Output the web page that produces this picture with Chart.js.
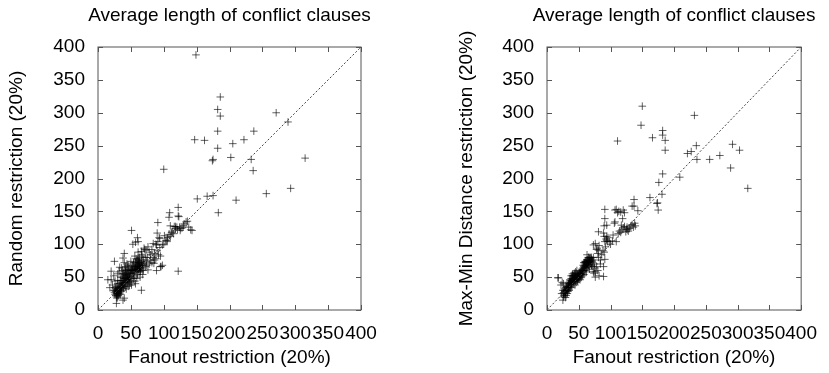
<!DOCTYPE html>
<html>
<head>
<meta charset="utf-8">
<script src="https://cdn.jsdelivr.net/npm/chart.js@4"></script>
<style>
  body { margin: 0; background: #fff; }
  .panel { position: absolute; top: 0; }
</style>
</head>
<body>
<div class="panel" style="left:0"><canvas id="leftChart" width="414" height="373"></canvas></div>
<div class="panel" style="left:414px"><canvas id="rightChart" width="415" height="373"></canvas></div>
<script>
const axisTicks = [0, 50, 100, 150, 200, 250, 300, 350, 400];
const diagonal = [0, 400];
const chartTitle = 'Average length of conflict clauses';
const xLabel = 'Fanout restriction (20%)';
const leftYLabel = 'Random restriction (20%)';
const rightYLabel = 'Max-Min Distance restriction (20%)';

// [fanout, random] pairs
const randomPoints = [
  [149,388],[186,324],[182,305],[186,295],[182,272],[147,259],[162,258],[182,246],[175,229],[174,227],
  [205,253],[222,259],[237,272],[202,232],[233,229],[236,212],[271,300],[289,286],[315,231],[100,214],
  [151,169],[166,173],[175,174],[183,148],[210,167],[256,177],[293,185],[122,59],
  [109,148],[108,141],[122,156],[122,143],[123,142],[91,133],[110,128],[116,127],[124,126],[131,131],
  [134,134],[136,135],[141,122],[143,121],[125,121],[128,125],[118,124],[120,126],[121,122],[126,124],
  [112,118],[113,120],[115,116],[108,115],[110,112],[105,104],[103,106],[101,113],[100,100],[106,110],
  [51,121],[60,110],[61,104],[53,100],[57,103],[70,94],[90,117],[94,109],[84,101],[89,99],[98,99],[105,106],
  [95,66],[98,68],[85,71],[66,89],[71,92],[73,91],[40,86],[38,79],[25,74],[20,59],[15,46],[18,34],
  [28,10],[28,20],[40,18],[38,15],[22,38],[24,52],[20,46],[30,55],[26,44],[66,30],[96,66],[89,60],[76,61],
  [26,24],[28,22],[30,25],[27,28],[29,30],[31,22],[33,26],[28,27],[30,20],[32,29],[34,24],[29,18],
  [31,33],[27,32],[33,31],[35,28],[25,27],[30,28],[32,24],[28,25],[26,30],[34,34],[36,30],[31,27],[29,23],
  [36,36],[38,40],[40,38],[37,45],[39,48],[41,42],[42,35],[43,44],[44,50],[40,52],[38,55],[42,58],
  [45,40],[46,46],[47,52],[44,56],[41,62],[45,65],[48,48],[49,55],[50,44],[50,60],[46,36],[43,32],
  [48,38],[39,33],[36,42],[35,50],[37,60],[33,65],[34,45],[44,70],[47,62],[49,42],[52,50],[51,38],
  [52,56],[53,62],[54,48],[55,52],[56,58],[57,64],[58,70],[55,66],[59,60],[60,54],[61,66],[62,72],
  [63,68],[60,76],[62,62],[64,58],[65,70],[66,74],[67,64],[63,80],[58,78],[68,68],[69,60],[70,72],
  [66,84],[61,88],[54,72],[56,44],[57,40],[59,48],[64,50],[68,54],[52,68],[50,74],[56,82],[64,62],
  [62,58],[60,64],[61,70],[63,72],[72,66],[74,74],[75,80],[78,70],[80,76],[82,72],[84,80],[86,86],
  [88,78],[90,90],[92,84],[95,82],[94,95],[88,100],[78,88],[82,92],[76,96],[91,104],[93,110],[80,84],
  [86,76],[72,80],[68,82],[74,68],[138,126],[130,128],[118,127],
  [33,40],[35,35],[37,38],[39,44],[41,48],[43,52],[45,54],[47,58],[49,60],[51,62],[53,66],[55,60],
  [57,62],[59,66],[61,62],[63,66],[65,64],[60,68],[58,62],[56,64],[54,56],[52,60],[50,56],[48,50],
  [46,50],[44,46],[42,48],[40,42],[38,36],[36,34],[34,30],[32,34],[30,32],[35,38],[37,50],[39,56],
  [41,54],[43,60],[45,46],[47,44],[62,76],[64,68],[66,70],[61,78],[59,74],[57,72],[63,64],[65,60],
  [67,70],[69,76],[46,68],[42,66],[40,72],[36,64],[32,58],[30,40],[28,36],[26,34],[24,30],[30,45]
];

// [fanout, max-min distance] pairs
const maxMinPoints = [
  [150,310],[148,281],[111,257],[166,262],[182,273],[182,266],[186,258],[186,243],[232,296],[235,250],
  [227,241],[221,238],[236,229],[256,229],[272,235],[292,252],[303,243],[289,216],[316,185],[209,202],
  [182,207],[176,194],[181,176],[162,171],[174,163],[175,152],[173,162],[137,168],[134,158],[137,158],
  [143,151],[91,153],[109,153],[111,148],[107,152],[113,150],[116,149],[120,152],[122,148],[119,139],
  [107,134],[106,132],[117,129],[122,127],[127,122],[124,119],[120,125],[125,123],[128,120],[126,126],
  [130,124],[132,128],[134,130],[136,126],[138,132],[139,128],[116,118],[118,122],[112,116],[114,120],
  [104,114],[109,104],[91,139],[94,129],[90,128],[81,119],[89,117],[94,112],[90,112],[91,104],[94,106],
  [96,110],[93,108],[95,104],[98,104],[100,100],[103,105],[76,101],[73,99],[81,91],[79,94],[82,98],
  [78,92],[80,86],[88,90],[90,88],[92,96],[86,84],[84,76],[91,77],[89,66],[81,80],[89,51],[76,50],
  [82,52],[80,60],[75,64],[76,58],[73,58],[74,56],[78,66],[84,70],
  [17,49],[18,49],[22,38],[24,42],[26,40],[25,15],[23,25],[26,20],[27,24],[28,28],[30,22],[29,26],
  [31,30],[27,30],[32,25],[30,34],[33,28],[28,32],[26,26],[34,32],[29,19],[31,36],[25,30],[35,30],
  [33,36],[27,22],[36,38],[37,42],[38,45],[39,40],[40,48],[41,44],[42,50],[43,46],[44,52],[45,48],
  [46,42],[47,50],[48,54],[49,46],[50,52],[36,46],[38,52],[40,55],[42,40],[44,38],[46,56],[48,44],
  [35,42],[39,35],[41,52],[43,56],[37,34],[45,58],[47,60],[49,50],[50,48],[52,46],[51,50],
  [52,54],[53,58],[54,50],[55,56],[56,62],[57,60],[58,66],[59,64],[60,70],[61,68],[62,72],[63,74],
  [64,76],[65,70],[66,72],[67,78],[64,66],[62,64],[60,60],[66,66],[68,74],[69,70],[70,76],[72,72],
  [74,70],[73,80],[71,66],[65,80],[63,84],[67,62],[58,54],[56,52],[54,60],[68,80],[70,68],[62,58],
  [61,74],[64,72],[66,76],[59,72],[57,68],[42,46],[44,48],[40,44],[38,38],[32,30],[34,38],
  [34,40],[36,44],[38,42],[40,46],[42,44],[44,46],[46,48],[48,50],[50,54],[52,56],[54,54],[56,58],
  [58,60],[60,64],[62,66],[64,70],[66,74],[68,72],[63,76],[61,72],[59,68],[57,64],[55,62],[53,52],
  [51,56],[49,52],[47,46],[45,50],[43,48],[41,46],[39,44],[37,40],[35,36],[33,34],[31,32],[29,28],
  [27,26],[30,30],[32,34],[45,44],[48,48],[50,50],[65,68],[67,74],[69,78],[71,74],[72,76],[70,80],
  [66,80],[62,70],[60,74],[58,72],[55,58],[53,56],[42,52],[40,52],[38,48],[36,40],[34,36],[44,54]
];

Chart.defaults.font.family = "'Liberation Sans', Arial, Helvetica, sans-serif";
Chart.defaults.font.size = 19;
Chart.defaults.color = '#000';

// gnuplot-style box with inward ticks on all four sides, plus the title over the plot box
const frameTicks = {
  id: 'frameTicks',
  afterDatasetsDraw(chart, args, opts) {
    const { ctx, chartArea: a, scales: { x, y } } = chart;
    const len = 5;
    ctx.save();
    ctx.strokeStyle = '#555';
    ctx.lineWidth = 1;
    ctx.strokeRect(a.left, a.top, a.right - a.left, a.bottom - a.top);
    ctx.beginPath();
    x.ticks.forEach(t => {
      const px = Math.round(x.getPixelForValue(t.value)) + 0.5;
      ctx.moveTo(px, a.bottom); ctx.lineTo(px, a.bottom - len);
      ctx.moveTo(px, a.top); ctx.lineTo(px, a.top + len);
    });
    y.ticks.forEach(t => {
      const py = Math.round(y.getPixelForValue(t.value)) + 0.5;
      ctx.moveTo(a.left, py); ctx.lineTo(a.left + len, py);
      ctx.moveTo(a.right, py); ctx.lineTo(a.right - len, py);
    });
    ctx.stroke();

    ctx.fillStyle = '#000';
    ctx.font = "19px 'Liberation Sans', Arial, sans-serif";
    ctx.textAlign = 'center';
    ctx.textBaseline = 'middle';
    ctx.fillText(opts.text, (a.left + a.right) / 2, a.top - 31);
    ctx.restore();
  }
};

function makeChart(id, points, yLabel, yWidth, yTitlePad, rightPad) {
  const ctx = document.getElementById(id).getContext('2d');
  return new Chart(ctx, {
    type: 'scatter',
    data: {
      datasets: [
        {
          data: diagonal.map(v => ({ x: v, y: v })),
          showLine: true,
          borderColor: '#444',
          borderWidth: 1,
          borderDash: [2, 2],
          pointRadius: 0
        },
        {
          data: points.map(p => ({ x: p[0], y: p[1] })),
          pointStyle: 'cross',
          pointRadius: 3.8,
          borderWidth: 1,
          borderColor: 'rgba(0,0,0,0.62)',
          backgroundColor: 'rgba(0,0,0,0)'
        }
      ]
    },
    options: {
      responsive: false,
      animation: false,
      events: [],
      layout: { padding: { left: 0, right: rightPad, top: 47, bottom: 0 } },
      plugins: {
        legend: { display: false },
        tooltip: { enabled: false },
        title: { display: false },
        frameTicks: { text: chartTitle }
      },
      scales: {
        x: {
          type: 'linear',
          min: 0,
          max: 400,
          afterBuildTicks: s => { s.ticks = axisTicks.map(v => ({ value: v })); },
          afterFit: s => { s.height = 63; },
          grid: { display: false, drawTicks: false },
          border: { display: false },
          ticks: { autoSkip: false, maxRotation: 0, minRotation: 0, padding: 12 },
          title: { display: true, text: xLabel, padding: { top: 0, bottom: 3.6 } }
        },
        y: {
          type: 'linear',
          min: 0,
          max: 400,
          afterBuildTicks: s => { s.ticks = axisTicks.map(v => ({ value: v })); },
          afterFit: s => { s.width = yWidth; },
          grid: { display: false, drawTicks: false },
          border: { display: false },
          ticks: { autoSkip: false, padding: 13 },
          title: { display: true, text: yLabel, padding: { top: yTitlePad, bottom: 0 } }
        }
      }
    },
    plugins: [frameTicks]
  });
}

makeChart('leftChart', randomPoints, leftYLabel, 98, 5.6, 53);
makeChart('rightChart', maxMinPoints, rightYLabel, 133, 41.6, 19);
</script>
</body>
</html>
